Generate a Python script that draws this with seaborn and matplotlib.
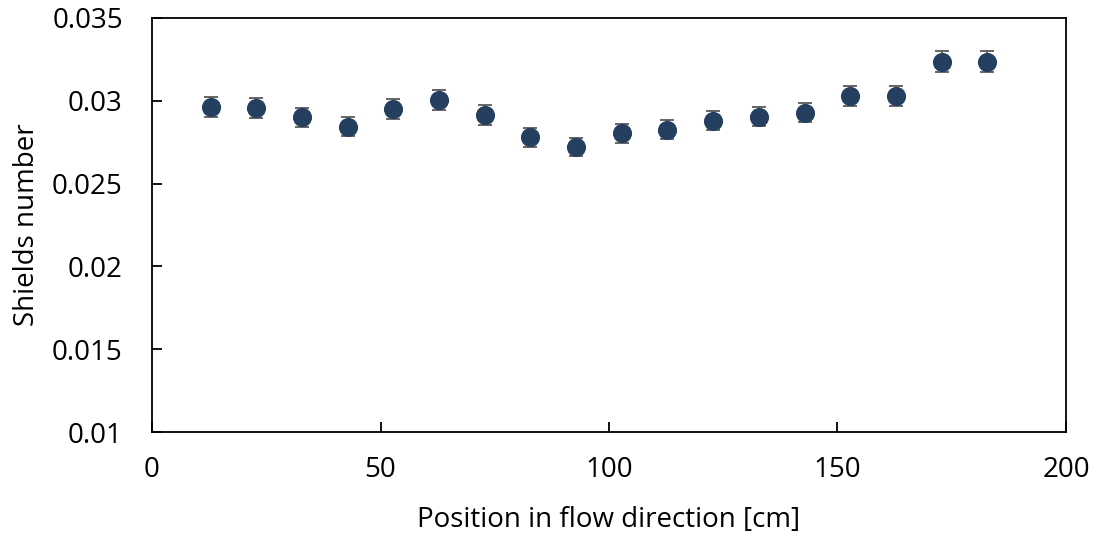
import matplotlib
matplotlib.use("Agg")
import matplotlib.pyplot as plt
import pandas as pd
import seaborn as sns

# Data
position = [12.8, 22.8, 32.8, 42.8, 52.8, 62.8, 72.8, 82.8, 92.8,
            102.8, 112.8, 122.8, 132.8, 142.8, 152.8, 162.8, 172.8, 182.8]
shields = [0.02964, 0.02958, 0.02900, 0.02844, 0.02950, 0.03005, 0.02914,
           0.02779, 0.02719, 0.02804, 0.02826, 0.02880, 0.02904, 0.02928,
           0.03029, 0.03027, 0.03236, 0.03236]
err = [0.00059, 0.00059, 0.00058, 0.00057, 0.00059, 0.00060, 0.00058,
       0.00056, 0.00054, 0.00056, 0.00057, 0.00058, 0.00058, 0.00059,
       0.00061, 0.00061, 0.00065, 0.00065]

df = pd.DataFrame({"pos": position, "shields": shields, "err": err})

sns.set_style("white")
plt.rcParams['font.family'] = ['Open Sans', 'DejaVu Sans']
plt.rcParams['text.color'] = 'black'
plt.rcParams['axes.labelcolor'] = 'black'

fig, ax = plt.subplots(figsize=(10.96, 5.37), dpi=100)
fig.subplots_adjust(left=0.1387, right=0.9726, top=0.9665, bottom=0.1955)

ax.errorbar(df.pos, df.shields, yerr=df.err, fmt='none', ecolor='#595959',
            elinewidth=1.3, capsize=5, capthick=1.3, zorder=2)
sns.scatterplot(data=df, x="pos", y="shields", ax=ax, s=190, color="#243F60",
                edgecolor="#243F60", linewidth=0, zorder=3)

ax.set_xlim(0, 200)
ax.set_ylim(0.01, 0.035)
ax.set_xticks([0, 50, 100, 150, 200])
ax.set_yticks([0.01, 0.015, 0.02, 0.025, 0.03, 0.035])
ax.set_yticklabels(["0.01", "0.015", "0.02", "0.025", "0.03", "0.035"])
ax.set_xlabel("Position in flow direction [cm]", fontsize=20, labelpad=16)
ax.set_ylabel("Shields number", fontsize=20, labelpad=8)

for s in ax.spines.values():
    s.set_color("black")
    s.set_linewidth(1.3)
ax.tick_params(direction='in', length=7, width=1.3, colors='black',
               labelsize=20, left=True, bottom=True, top=False, right=False)
ax.tick_params(axis='y', pad=21)
ax.tick_params(axis='x', pad=17)

fig.savefig("out.png", dpi=100)
